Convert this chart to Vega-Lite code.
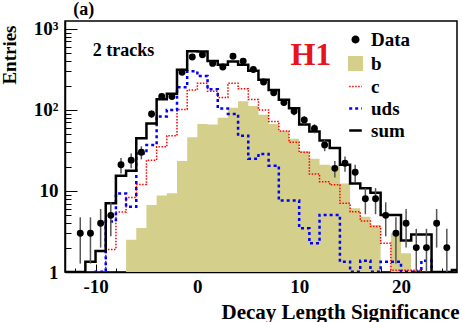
{
  "$schema": "https://vega.github.io/schema/vega-lite/v6.json",
  "width": 392,
  "height": 251,
  "autosize": {"type": "none"},
  "padding": {"left": 65, "top": 21, "right": 6, "bottom": 50},
  "background": "white",
  "config": {
    "font": "Liberation Serif",
    "view": {"stroke": "black", "strokeWidth": 1.5},
    "axis": {"domainColor": "black", "domainWidth": 1.5, "tickColor": "black", "tickWidth": 1, "labelColor": "black", "labelFont": "Liberation Serif", "labelFontWeight": "bold", "labelFontSize": 19, "titleFont": "Liberation Serif", "titleFontWeight": "bold", "titleColor": "black", "grid": false, "labelOverlap": false, "labelFlush": false}
  },
  "resolve": {"axis": {"x": "independent"}},
  "data": {"values": [
    {"lo": -13, "mid": -12.5, "b": 0.5, "c": 0.5, "uds": 0.5, "sum": 1, "n": null, "nlo": null, "nhi": null},
    {"lo": -12, "mid": -11.5, "b": 0.5, "c": 0.5, "uds": 0.5, "sum": 1, "n": 3, "nlo": 1.27, "nhi": 4.73},
    {"lo": -11, "mid": -10.5, "b": 0.5, "c": 0.5, "uds": 0.5, "sum": 1.34, "n": 3, "nlo": 1.27, "nhi": 4.73},
    {"lo": -10, "mid": -9.5, "b": 0.5, "c": 1.01, "uds": 1.01, "sum": 1.82, "n": 4, "nlo": 2, "nhi": 6},
    {"lo": -9, "mid": -8.5, "b": 0.5, "c": 1.9, "uds": 4.2, "sum": 7.06, "n": 5, "nlo": 2.76, "nhi": 7.24},
    {"lo": -8, "mid": -7.5, "b": 0.5, "c": 5.5, "uds": 9.3, "sum": 15.4, "n": 21, "nlo": 16.42, "nhi": 25.58},
    {"lo": -7, "mid": -6.5, "b": 2.5, "c": 8.3, "uds": 6.4, "sum": 17.7, "n": 24, "nlo": 19.1, "nhi": 28.9},
    {"lo": -6, "mid": -5.5, "b": 3.5, "c": 12, "uds": 29, "sum": 44.8, "n": 30, "nlo": 24.52, "nhi": 35.48},
    {"lo": -5, "mid": -4.5, "b": 6.7, "c": 24, "uds": 37, "sum": 68, "n": 89, "nlo": 79.57, "nhi": 98.43},
    {"lo": -4, "mid": -3.5, "b": 8.8, "c": 35, "uds": 83, "sum": 135, "n": 146, "nlo": 133.92, "nhi": 158.08},
    {"lo": -3, "mid": -2.5, "b": 9.4, "c": 48, "uds": 100, "sum": 158, "n": 146, "nlo": 133.92, "nhi": 158.08},
    {"lo": -2, "mid": -1.5, "b": 23.5, "c": 101, "uds": 190, "sum": 312, "n": 292, "nlo": 274.91, "nhi": 309.09},
    {"lo": -1, "mid": -0.5, "b": 46, "c": 176, "uds": 300, "sum": 530, "n": 450, "nlo": 428.79, "nhi": 471.21},
    {"lo": 0, "mid": 0.5, "b": 67, "c": 213, "uds": 262, "sum": 525, "n": 478, "nlo": 456.14, "nhi": 499.86},
    {"lo": 1, "mid": 1.5, "b": 66, "c": 170, "uds": 180, "sum": 402, "n": 375, "nlo": 355.64, "nhi": 394.36},
    {"lo": 2, "mid": 2.5, "b": 80, "c": 142, "uds": 104, "sum": 360, "n": 338, "nlo": 319.62, "nhi": 356.38},
    {"lo": 3, "mid": 3.5, "b": 106, "c": 213, "uds": 89, "sum": 395, "n": 460, "nlo": 438.55, "nhi": 481.45},
    {"lo": 4, "mid": 4.5, "b": 128, "c": 182, "uds": 48, "sum": 360, "n": 400, "nlo": 380, "nhi": 420},
    {"lo": 5, "mid": 5.5, "b": 112, "c": 134, "uds": 25, "sum": 304, "n": 315, "nlo": 297.25, "nhi": 332.75},
    {"lo": 6, "mid": 6.5, "b": 87, "c": 100, "uds": 28.6, "sum": 235, "n": 221, "nlo": 206.13, "nhi": 235.87},
    {"lo": 7, "mid": 7.5, "b": 67, "c": 72, "uds": 20.5, "sum": 176, "n": 163, "nlo": 150.23, "nhi": 175.77},
    {"lo": 8, "mid": 8.5, "b": 55, "c": 55, "uds": 7.6, "sum": 133, "n": 123, "nlo": 111.91, "nhi": 134.09},
    {"lo": 9, "mid": 9.5, "b": 44, "c": 40, "uds": 7.6, "sum": 105, "n": 96, "nlo": 86.2, "nhi": 105.8},
    {"lo": 10, "mid": 10.5, "b": 31, "c": 30, "uds": 3.46, "sum": 66, "n": 75, "nlo": 66.34, "nhi": 83.66},
    {"lo": 11, "mid": 11.5, "b": 25, "c": 16.2, "uds": 2.26, "sum": 54, "n": 59, "nlo": 51.32, "nhi": 66.68},
    {"lo": 12, "mid": 12.5, "b": 21, "c": 13, "uds": 5.06, "sum": 42, "n": 37, "nlo": 30.92, "nhi": 43.08},
    {"lo": 13, "mid": 13.5, "b": 20.5, "c": 11.9, "uds": 5.06, "sum": 34, "n": 19, "nlo": 14.64, "nhi": 23.36},
    {"lo": 14, "mid": 14.5, "b": 12.4, "c": 7.05, "uds": 1.34, "sum": 21, "n": 22, "nlo": 17.31, "nhi": 26.69},
    {"lo": 15, "mid": 15.5, "b": 6.1, "c": 5.55, "uds": 1.01, "sum": 12.4, "n": 17, "nlo": 12.88, "nhi": 21.12},
    {"lo": 16, "mid": 16.5, "b": 4.8, "c": 4.27, "uds": 1.38, "sum": 10.8, "n": 8, "nlo": 5.17, "nhi": 10.83},
    {"lo": 17, "mid": 17.5, "b": 3.8, "c": 3.63, "uds": 1.01, "sum": 9.5, "n": 8, "nlo": 5.17, "nhi": 10.83},
    {"lo": 18, "mid": 18.5, "b": 0.5, "c": 2.26, "uds": 1.34, "sum": 5.06, "n": 5, "nlo": 2.76, "nhi": 7.24},
    {"lo": 19, "mid": 19.5, "b": 3.0, "c": 1.05, "uds": 1.34, "sum": 5.06, "n": 3, "nlo": 1.27, "nhi": 4.73},
    {"lo": 20, "mid": 20.5, "b": 1.7, "c": 1.05, "uds": 1.01, "sum": 2.45, "n": 4, "nlo": 2, "nhi": 6},
    {"lo": 21, "mid": 21.5, "b": 0.5, "c": 1.05, "uds": 1.01, "sum": 2.9, "n": 2, "nlo": 0.59, "nhi": 3.41},
    {"lo": 22, "mid": 22.5, "b": 0.5, "c": 0.5, "uds": 1.38, "sum": 2.9, "n": 2, "nlo": 0.59, "nhi": 3.41},
    {"lo": 23, "mid": 23.5, "b": 0.5, "c": 0.5, "uds": 0.5, "sum": 1, "n": 4, "nlo": 2, "nhi": 6},
    {"lo": 24, "mid": 24.5, "b": 0.5, "c": 0.5, "uds": 0.5, "sum": 1, "n": 2, "nlo": 0.59, "nhi": 3.41},
    {"lo": 25, "mid": 25.5, "b": 0.5, "c": 0.5, "uds": 0.5, "sum": 1.06, "n": null, "nlo": null, "nhi": null},
    {"lo": 26, "mid": 26.5, "b": 0.5, "c": 0.5, "uds": 0.5, "sum": 1.06, "n": null, "nlo": null, "nhi": null}
  ]},
  "layer": [
    {
      "mark": {"type": "area", "interpolate": "step-after", "clip": true},
      "encoding": {
        "x": {"field": "lo", "type": "quantitative", "scale": {"domain": [-13, 25.5], "nice": false, "zero": false},
          "axis": {"orient": "bottom", "title": "Decay Length Significance", "titleFontSize": 21, "titleAnchor": "end", "titleAlign": "right", "titleX": 394, "titleY": 46, "titleBaseline": "alphabetic",
            "values": [-10, 0, 10, 20],
            "labelExpr": "'' + datum.value",
            "labelOverlap": false,
            "tickSize": -8,
            "labelPadding": 13}},
        "y": {"field": "b", "type": "quantitative", "scale": {"type": "log", "domain": [1, 1250], "nice": false},
          "axis": {"title": "Entries", "titleFontSize": 19, "titleAngle": -90, "titleAlign": "right", "titleBaseline": "alphabetic", "titleX": -50, "titleY": 4,
            "values": [1, 2, 3, 4, 5, 6, 7, 8, 9, 10, 20, 30, 40, 50, 60, 70, 80, 90, 100, 200, 300, 400, 500, 600, 700, 800, 900, 1000],
            "labelExpr": "datum.value === 1 ? '1' : datum.value === 10 ? '10' : datum.value === 100 ? '10²' : datum.value === 1000 ? '10³' : ''",
            "labelOverlap": false,
            "tickSize": {"condition": {"test": "datum.value === 1 || datum.value === 10 || datum.value === 100 || datum.value === 1000", "value": -12}, "value": -6},
            "labelPadding": 19}},
        "y2": {"datum": 1},
        "color": {"datum": "b", "type": "nominal", "scale": {"domain": ["Data", "b", "c", "uds", "sum"], "range": ["black", "#d4cf8b", "#ff0000", "#0000ff", "black"]},
          "legend": {"title": null, "orient": "none", "legendX": 281, "legendY": 9, "padding": 0, "labelFont": "Liberation Serif", "labelFontWeight": "bold", "labelFontSize": 19, "labelColor": "black", "labelOffset": 6, "rowPadding": 2, "symbolSize": 160,
            "encode": {"symbols": {"update": {
              "shape": {"signal": "datum.value === 'Data' ? 'circle' : datum.value === 'b' ? 'square' : 'stroke'"},
              "size": {"signal": "datum.value === 'Data' ? 30 : 160"},
              "fill": {"signal": "datum.value === 'Data' ? 'black' : datum.value === 'b' ? '#d4cf8b' : 'transparent'"},
              "stroke": {"signal": "datum.value === 'c' ? '#ff0000' : datum.value === 'uds' ? '#0000ff' : datum.value === 'sum' ? 'black' : 'transparent'"},
              "strokeWidth": {"signal": "datum.value === 'c' ? 1.5 : 2.5"},
              "strokeDash": {"signal": "datum.value === 'c' ? [1.5, 1.5] : datum.value === 'uds' ? [3, 3] : [1, 0]"},
              "opacity": {"value": 1}
            }}}}}
      }
    },
    {
      "mark": {"type": "line", "interpolate": "step-after", "clip": true, "strokeWidth": 1.5, "strokeDash": [1.5, 1.5]},
      "encoding": {
        "x": {"field": "lo", "type": "quantitative",
          "axis": {"orient": "bottom", "values": [-12, -8, -6, -4, -2, 2, 4, 6, 8, 12, 14, 16, 18, 22, 24], "labels": false, "domain": false, "title": null, "tickSize": -4, "grid": false}},
        "y": {"field": "c", "type": "quantitative"},
        "color": {"datum": "c", "type": "nominal"}
      }
    },
    {
      "mark": {"type": "line", "interpolate": "step-after", "clip": true, "strokeWidth": 2.5, "strokeDash": [3, 3]},
      "encoding": {
        "x": {"field": "lo", "type": "quantitative", "axis": null},
        "y": {"field": "uds", "type": "quantitative"},
        "color": {"datum": "uds", "type": "nominal"}
      }
    },
    {
      "mark": {"type": "line", "interpolate": "step-after", "clip": true, "strokeWidth": 2.5},
      "encoding": {
        "x": {"field": "lo", "type": "quantitative", "axis": null},
        "y": {"field": "sum", "type": "quantitative"},
        "color": {"datum": "sum", "type": "nominal"}
      }
    },
    {
      "mark": {"type": "rule", "clip": true, "color": "#555555", "strokeWidth": 1.5},
      "encoding": {
        "x": {"field": "mid", "type": "quantitative", "axis": null},
        "y": {"field": "nlo", "type": "quantitative"},
        "y2": {"field": "nhi"}
      }
    },
    {
      "mark": {"type": "point", "filled": true, "shape": "circle", "size": 48, "opacity": 1, "clip": true},
      "encoding": {
        "x": {"field": "mid", "type": "quantitative", "axis": null},
        "y": {"field": "n", "type": "quantitative"},
        "color": {"datum": "Data", "type": "nominal"}
      }
    },
    {
      "data": {"values": [{"label": "2 tracks"}]},
      "mark": {"type": "text", "font": "Liberation Serif", "fontWeight": "bold", "fontSize": 18, "align": "center", "baseline": "alphabetic", "color": "black"},
      "encoding": {
        "text": {"field": "label"},
        "x": {"datum": -7.25, "type": "quantitative", "axis": null},
        "y": {"datum": 464, "type": "quantitative"}
      }
    },
    {
      "data": {"values": [{"label": "H1"}]},
      "mark": {"type": "text", "font": "Liberation Serif", "fontWeight": "bold", "fontSize": 32, "align": "center", "baseline": "alphabetic", "color": "#e8141b"},
      "encoding": {
        "text": {"field": "label"},
        "x": {"datum": 11.15, "type": "quantitative", "axis": null},
        "y": {"datum": 359, "type": "quantitative"}
      }
    },
    {
      "data": {"values": [{"label": "(a)"}]},
      "mark": {"type": "text", "font": "Liberation Serif", "fontWeight": "bold", "fontSize": 18, "align": "left", "baseline": "alphabetic", "color": "black"},
      "encoding": {
        "text": {"field": "label"},
        "x": {"datum": -12.2, "type": "quantitative", "axis": null},
        "y": {"datum": 1489, "type": "quantitative"}
      }
    }
  ]
}
